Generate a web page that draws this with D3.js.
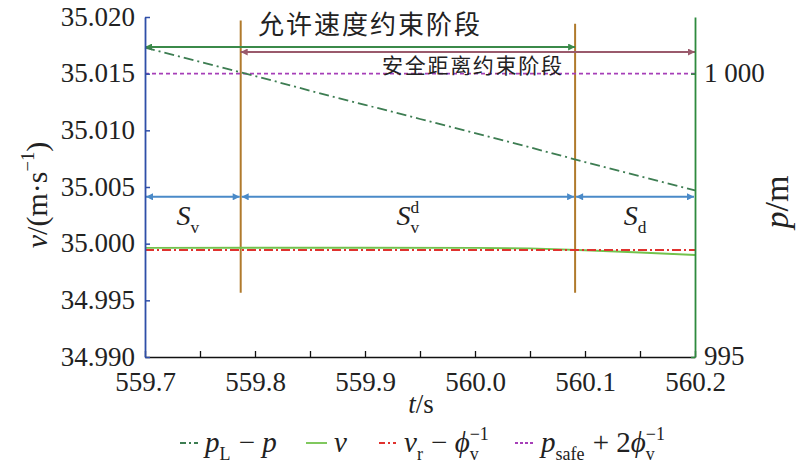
<!DOCTYPE html>
<html>
<head>
<meta charset="utf-8">
<script src="https://cdn.jsdelivr.net/npm/d3@7"></script>
<style>
  body { margin: 0; background: #fff; }
  svg text { font-family: "Liberation Serif", "Times New Roman", Tinos, "DejaVu Serif", serif; fill: #222; }
  svg text.cjk { font-family: "Noto Sans CJK SC", "Noto Sans CJK JP", sans-serif; }
</style>
</head>
<body>
<div id="mainDiv"></div>
<script>
// ---- data ----
const tTicks = [559.7, 559.8, 559.9, 560.0, 560.1, 560.2];
const tMinor = [559.7, 559.75, 559.8, 559.85, 559.9, 559.95, 560.0, 560.05, 560.1, 560.15, 560.2];
const vTicks = [34.990, 34.995, 35.000, 35.005, 35.010, 35.015, 35.020];
const pTicks = [995, 1000];

// p_L - p (right axis, m)
const tGap = [559.7, 559.75, 559.8, 559.85, 559.9, 559.95, 560.0, 560.05, 560.1, 560.15, 560.2];
const pGap = [1000.46, 1000.21, 999.96, 999.70, 999.45, 999.20, 998.95, 998.70, 998.44, 998.19, 997.94];

// v (left axis, m/s)
const tSpeed = [559.7, 559.8, 559.9, 560.0, 560.05, 560.1, 560.15, 560.2];
const vSpeed = [34.99963, 34.99964, 34.99964, 34.99962, 34.99958, 34.99942, 34.99922, 34.99900];

// v_r - phi^-1 (left axis)
const tRef = [559.7, 560.2];
const vRef = [34.99944, 34.99944];

// p_safe + 2 phi^-1 (right axis)
const tSafe = [559.7, 560.2];
const pSafe = [1000, 1000];

// stage boundaries (s)
const tStage = [559.787, 560.091];

// ---- layout ----
let margin = { top: 17, right: 105, bottom: 112, left: 145 },
    width  = 800 - margin.left - margin.right,
    height = 469 - margin.top - margin.bottom;

let svg = d3.select("#mainDiv").append("svg")
            .attr("width", 800)
            .attr("height", 469),
    g   = svg.append("g")
            .attr("transform", "translate(" + margin.left + "," + margin.top + ")");

let x  = d3.scaleLinear().domain([559.7, 560.2]).range([0, width]);
let yL = d3.scaleLinear().domain([34.990, 35.020]).range([height, 0]);
let yR = d3.scaleLinear().domain([995, 1001]).range([height, 0]);

const SP = "\u00a0";

// helper: lay out text pieces (italic, sub, sup, stacked sub/sup)
function richText(sel, parts, x0, y0, size) {
  let cx = x0;
  parts.forEach(function(p) {
    if (p.sub !== undefined || p.sup !== undefined) {
      let w = 0;
      if (p.sub !== undefined) {
        let t = sel.append("text").attr("x", cx).attr("y", y0 + size * 0.28)
                  .style("font-size", (size * 0.62) + "px").text(p.sub);
        w = Math.max(w, t.node().getComputedTextLength());
      }
      if (p.sup !== undefined) {
        let t = sel.append("text").attr("x", cx).attr("y", y0 - size * 0.42)
                  .style("font-size", (size * 0.62) + "px").text(p.sup);
        w = Math.max(w, t.node().getComputedTextLength());
      }
      cx += w + (p.gap || 0);
    } else {
      let t = sel.append("text").attr("x", cx).attr("y", y0)
                .style("font-size", size + "px")
                .style("font-style", p.it ? "italic" : "normal")
                .text(p.s);
      cx += t.node().getComputedTextLength();
    }
  });
  return cx - x0;
}

// ---- stage arrows ----
let defs = svg.append("defs");
function marker(id, color) {
  defs.append("marker")
      .attr("id", id)
      .attr("viewBox", "0 0 10 10")
      .attr("refX", 10).attr("refY", 5)
      .attr("markerWidth", 10).attr("markerHeight", 7)
      .attr("markerUnits", "userSpaceOnUse")
      .attr("orient", "auto-start-reverse")
    .append("path")
      .attr("d", "M0,0L10,5L0,10Z")
      .attr("fill", color);
}
marker("arGreen", "#3b8a4a");
marker("arMauve", "#9a5a6c");
marker("arBlue",  "#4a8ac8");

// vertical stage boundaries
g.selectAll(".stage")
    .data(tStage)
  .enter().append("line")
    .attr("class", "stage")
    .attr("x1", d => x(d)).attr("x2", d => x(d))
    .attr("y1", (d, i) => yL(i ? 35.0194 : 35.0197))
    .attr("y2", yL(34.99568))
    .attr("stroke", "#b07a2c")
    .attr("stroke-width", 2);

// allowed-speed stage
g.append("line")
    .attr("x1", x(559.7)).attr("x2", x(tStage[1]))
    .attr("y1", yL(35.01735)).attr("y2", yL(35.01735))
    .attr("stroke", "#3b8a4a").attr("stroke-width", 2)
    .attr("marker-start", "url(#arGreen)").attr("marker-end", "url(#arGreen)");
svg.append("text")
    .attr("class", "cjk")
    .attr("x", 258).attr("y", 34)
    .attr("textLength", 222).attr("lengthAdjust", "spacing")
    .style("font-size", "26px")
    .text("允许速度约束阶段");

// safe-distance stage
g.append("line")
    .attr("x1", x(tStage[0])).attr("x2", x(560.2))
    .attr("y1", yL(35.01691)).attr("y2", yL(35.01691))
    .attr("stroke", "#9a5a6c").attr("stroke-width", 2)
    .attr("marker-start", "url(#arMauve)").attr("marker-end", "url(#arMauve)");
svg.append("text")
    .attr("class", "cjk")
    .attr("x", 382).attr("y", 73)
    .attr("textLength", 180).attr("lengthAdjust", "spacing")
    .style("font-size", "21px")
    .text("安全距离约束阶段");

// S_v, S_v^d, S_d spans
let spans = [[559.7, tStage[0]], [tStage[0], tStage[1]], [tStage[1], 560.2]];
g.selectAll(".span")
    .data(spans)
  .enter().append("line")
    .attr("class", "span")
    .attr("x1", d => x(d[0]) + 1).attr("x2", d => x(d[1]) - 1)
    .attr("y1", yL(35.00413)).attr("y2", yL(35.00413))
    .attr("stroke", "#4a8ac8").attr("stroke-width", 2)
    .attr("marker-start", "url(#arBlue)").attr("marker-end", "url(#arBlue)");

let spanLabels = [
  [{ s: "S", it: true }, { sub: "v" }],
  [{ s: "S", it: true }, { sub: "v", sup: "d" }],
  [{ s: "S", it: true }, { sub: "d" }]
];
let spanShift = [-5, 0, 0];
spanLabels.forEach(function(parts, i) {
  let lg = g.append("g");
  let w = richText(lg, parts, 0, 0, 28);
  let mid = x((spans[i][0] + spans[i][1]) / 2) + spanShift[i];
  lg.attr("transform", "translate(" + (mid - w / 2) + "," + (yL(35.00413) + 28) + ")");
});

// ---- series ----
function draw(ts, vs, scale, color, dash, sw) {
  let line = d3.line().x((d, i) => x(ts[i])).y(d => scale(d));
  g.append("path")
      .datum(vs)
      .attr("d", line)
      .attr("fill", "none")
      .attr("stroke", color)
      .attr("stroke-width", sw)
      .attr("stroke-dasharray", dash);
}
draw(tSafe, pSafe, yR, "#a63fb8", "4,3", 1.6);
draw(tGap, pGap, yR, "#3d7d52", "10,4,2,4", 1.8);
draw(tSpeed, vSpeed, yL, "#72c24c", null, 1.8);
draw(tRef, vRef, yL, "#e0322e", "9,3,2,3", 1.8);

// ---- axes ----
let xAxis = g.append("g")
    .attr("transform", "translate(0," + height + ")")
    .call(d3.axisBottom(x).tickValues(tMinor)
            .tickSizeInner(-6).tickSizeOuter(0).tickPadding(15)
            .tickFormat(d => tTicks.some(t => Math.abs(t - d) < 1e-6) ? d3.format(".1f")(d) : ""));
xAxis.select(".domain").attr("stroke", "#111").attr("stroke-width", 1.6);
xAxis.selectAll(".tick line").attr("stroke", "#111").attr("stroke-width", 1.3);
xAxis.selectAll("text").style("font-size", "27px");

let yAxisL = g.append("g")
    .call(d3.axisLeft(yL).tickValues(vTicks)
            .tickSizeInner(-5).tickSizeOuter(0).tickPadding(10)
            .tickFormat(d3.format(".3f")));
yAxisL.select(".domain").attr("stroke", "#2f4fa8").attr("stroke-width", 1.8);
yAxisL.selectAll(".tick line").attr("stroke", "#2f4fa8").attr("stroke-width", 1.5);
yAxisL.selectAll("text").style("font-size", "27px").attr("dy", "0.3em");

let yAxisR = g.append("g")
    .attr("transform", "translate(" + width + ",0)")
    .call(d3.axisRight(yR).tickValues(pTicks)
            .tickSizeInner(-4).tickSizeOuter(0).tickPadding(9)
            .tickFormat(d => d === 1000 ? "1" + SP + "000" : d));
yAxisR.select(".domain").attr("stroke", "#2e8a3e").attr("stroke-width", 1.8);
yAxisR.selectAll(".tick line").attr("stroke", "#2e8a3e").attr("stroke-width", 1.5);
yAxisR.selectAll("text").style("font-size", "27px").attr("dy", "0.28em");

// axis titles
let tl = svg.append("g");
let tw = richText(tl, [{ s: "t", it: true }, { s: "/s" }], 0, 0, 27);
tl.attr("transform", "translate(" + (421 - tw / 2) + ",413)");

let vl = svg.append("g");
let vw = richText(vl, [{ s: "v", it: true }, { s: "/(m·s" }, { sup: "−1" }, { s: ")" }], 0, 0, 30);
vl.attr("transform", "translate(47," + (195 + vw / 2) + ") rotate(-90)");

let pl = svg.append("text")
    .attr("transform", "translate(788,202) rotate(-90)")
    .attr("text-anchor", "middle")
    .style("font-size", "34px");
pl.append("tspan").style("font-style", "italic").text("p");
pl.append("tspan").text("/m");

// ---- legend ----
const legendKeys = [
  { color: "#3d7d52", dash: "6,3,2,3", x0: 180, x1: 198, tx: 205,
    parts: [{ s: "p", it: true }, { sub: "L", gap: 1 }, { s: SP + "−" + SP }, { s: "p", it: true }] },
  { color: "#72c24c", dash: null, x0: 306, x1: 327, tx: 334,
    parts: [{ s: "v", it: true }] },
  { color: "#e0322e", dash: "6,3,2,3", x0: 379, x1: 396, tx: 404,
    parts: [{ s: "v", it: true }, { sub: "r", gap: 1 }, { s: SP + "−" + SP }, { s: "ϕ", it: true }, { sub: "v", sup: "−1" }] },
  { color: "#a63fb8", dash: "3,2", x0: 515, x1: 535, tx: 541,
    parts: [{ s: "p", it: true }, { sub: "safe", gap: 1 }, { s: SP + "+" + SP + "2" }, { s: "ϕ", it: true }, { sub: "v", sup: "−1" }] }
];
let legend = svg.append("g");
legendKeys.forEach(function(k) {
  legend.append("line")
      .attr("x1", k.x0).attr("x2", k.x1)
      .attr("y1", 443).attr("y2", 443)
      .attr("stroke", k.color).attr("stroke-width", 1.8)
      .attr("stroke-dasharray", k.dash);
  richText(legend, k.parts, k.tx, 452, 29);
});
</script>
</body>
</html>
